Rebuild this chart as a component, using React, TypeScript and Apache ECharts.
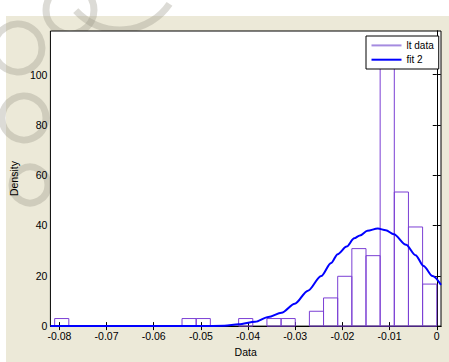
import React, { useEffect, useRef } from "react";
import * as echarts from "echarts";

// Histogram bins (left edge) and density heights
const binLeft = [-0.081, -0.054, -0.051, -0.042, -0.036, -0.033, -0.027, -0.024, -0.021, -0.018, -0.015, -0.012, -0.009, -0.006, -0.003];
const binWidth = 0.003;
const binDensity = [3.0, 3.0, 3.0, 3.0, 3.0, 3.0, 5.9, 11.2, 19.8, 30.8, 28.0, 112, 53.3, 39.4, 16.7];

// Fitted curve ("fit 2")
const fitX = [-0.0819, -0.05, -0.045, -0.042, -0.0385, -0.0357, -0.0329, -0.0301, -0.0273, -0.0245, -0.0224, -0.021, -0.0191, -0.0175, -0.0163, -0.0147, -0.0125, -0.0108, -0.0091, -0.0065, -0.0045, -0.0028, -0.0009, 0.0009];
const fitY = [0, 0, 0.1, 0.7, 1.7, 3.6, 5.3, 8.9, 14.1, 19.9, 25.1, 28.6, 31.6, 34.9, 36.0, 37.9, 38.8, 38.1, 36.5, 32.3, 28.2, 23.9, 19.9, 16.4];

const xTicks = [-0.08, -0.07, -0.06, -0.05, -0.04, -0.03, -0.02, -0.01, 0];
const yTicks = [0, 20, 40, 60, 80, 100];

const seriesNames = ["lt data", "fit 2"];

export default function App() {
  const ref = useRef<HTMLDivElement>(null);
  useEffect(() => {
    if (!ref.current) return;
    const chart = echarts.init(ref.current, null, { renderer: "svg" });
    const font = "Liberation Sans, Arial, sans-serif";
    const barEdge = "#7b3fd4";
    const histData = binLeft.map((x, i) => [x, x + binWidth, binDensity[i]]);
    const fitData = fitX.map((x, i) => [x, fitY[i]]);
    const xMin = -0.0819;
    const xMax = 0.0009;
    const yMax = 117.3;
    const axisCommon = {
      axisLine: { show: true, lineStyle: { color: "#000", width: 1 } },
      splitLine: { show: false },
    };
    const wmStyle = { stroke: "#9c998a", lineWidth: 7, fill: "none", opacity: 0.35 };
    chart.setOption({
      animation: false,
      backgroundColor: "#ffffff",
      textStyle: { fontFamily: font },
      graphic: [
        { type: "rect", z: -10, shape: { x: 6, y: 16, width: 443, height: 346 }, style: { fill: "#ece9d8" } },
        { type: "circle", z: -9, shape: { cx: 18, cy: 48, r: 24 }, style: wmStyle },
        { type: "circle", z: -9, shape: { cx: 24, cy: 118, r: 22 }, style: wmStyle },
        { type: "circle", z: -9, shape: { cx: 70, cy: 10, r: 24 }, style: wmStyle },
        { type: "circle", z: -9, shape: { cx: 30, cy: 185, r: 18 }, style: wmStyle },
        { type: "arc", z: -9, shape: { cx: 120, cy: -30, r: 60, startAngle: 0.6, endAngle: 2.4 }, style: wmStyle },
      ],
      grid: {
        left: 46,
        top: 31,
        width: 395,
        height: 300,
        show: true,
        backgroundColor: "#ffffff",
        borderColor: "#000",
        borderWidth: 1,
      },
      legend: {
        left: 366,
        top: 36,
        orient: "vertical",
        selectedMode: false,
        backgroundColor: "#ffffff",
        borderColor: "#000",
        borderWidth: 1,
        borderRadius: 0,
        padding: [3.4, 5, 3.3, 5.5],
        itemGap: 2.3,
        itemWidth: 30,
        itemHeight: 2,
        itemTextGap: 4,
        textStyle: { fontFamily: font, fontSize: 10, color: "#000", lineHeight: 12 },
        data: [
          { name: seriesNames[0], icon: "rect", itemStyle: { color: "#a58be0" } },
          { name: seriesNames[1], icon: "rect", itemStyle: { color: "#0000ff" } },
        ],
      },
      xAxis: [
        {
          type: "value",
          position: "bottom",
          min: xMin,
          max: xMax,
          name: "Data",
          nameLocation: "middle",
          nameGap: 16,
          nameTextStyle: { fontFamily: font, fontSize: 10.5, color: "#000" },
          ...axisCommon,
          axisTick: { show: true, inside: true, length: 4, lineStyle: { color: "#000" }, customValues: xTicks },
          axisLabel: {
            show: true,
            margin: 4,
            fontFamily: font,
            fontSize: 10.5,
            color: "#000",
            customValues: xTicks,
            formatter: (v: number) => (v === 0 ? "0" : v.toFixed(2)),
          },
        },
        {
          type: "value",
          position: "top",
          min: xMin,
          max: xMax,
          ...axisCommon,
          axisTick: { show: true, inside: true, length: 4, lineStyle: { color: "#000" }, customValues: xTicks },
          axisLabel: { show: false },
        },
      ],
      yAxis: [
        {
          type: "value",
          position: "left",
          min: 0,
          max: yMax,
          name: "Density",
          nameLocation: "middle",
          nameGap: 24,
          nameTextStyle: { fontFamily: font, fontSize: 10.5, color: "#000" },
          ...axisCommon,
          axisTick: { show: true, inside: true, length: 4, lineStyle: { color: "#000" }, customValues: yTicks },
          axisLabel: { show: true, margin: 3, fontFamily: font, fontSize: 10.5, color: "#000", customValues: yTicks },
        },
        {
          type: "value",
          position: "right",
          min: 0,
          max: yMax,
          ...axisCommon,
          axisTick: { show: true, inside: true, length: 4, lineStyle: { color: "#000" }, customValues: yTicks },
          axisLabel: { show: false },
        },
      ],
      series: [
        {
          name: seriesNames[0],
          type: "custom",
          xAxisIndex: 0,
          yAxisIndex: 0,
          itemStyle: { color: "#a58be0" },
          encode: { x: [0, 1], y: 2 },
          data: histData,
          z: 2,
          renderItem: (params: any, api: any) => {
            const p0 = api.coord([api.value(0), api.value(2)]);
            const p1 = api.coord([api.value(1), 0]);
            return {
              type: "rect",
              shape: { x: p0[0], y: p0[1], width: p1[0] - p0[0], height: p1[1] - p0[1] },
              style: { fill: "none", stroke: barEdge, lineWidth: 1 },
            };
          },
        },
        {
          name: seriesNames[1],
          type: "line",
          xAxisIndex: 0,
          yAxisIndex: 0,
          data: fitData,
          showSymbol: false,
          symbol: "none",
          smooth: 0.3,
          smoothMonotone: "x",
          clip: false,
          color: "#0000ff",
          lineStyle: { color: "#0000ff", width: 2 },
          z: 3,
        },
      ],
    });
    return () => chart.dispose();
  }, []);
  return (
    <div
      ref={ref}
      style={{ position: "absolute", left: 0, top: 0, width: 449, height: 362, background: "#fff" }}
    />
  );
}
